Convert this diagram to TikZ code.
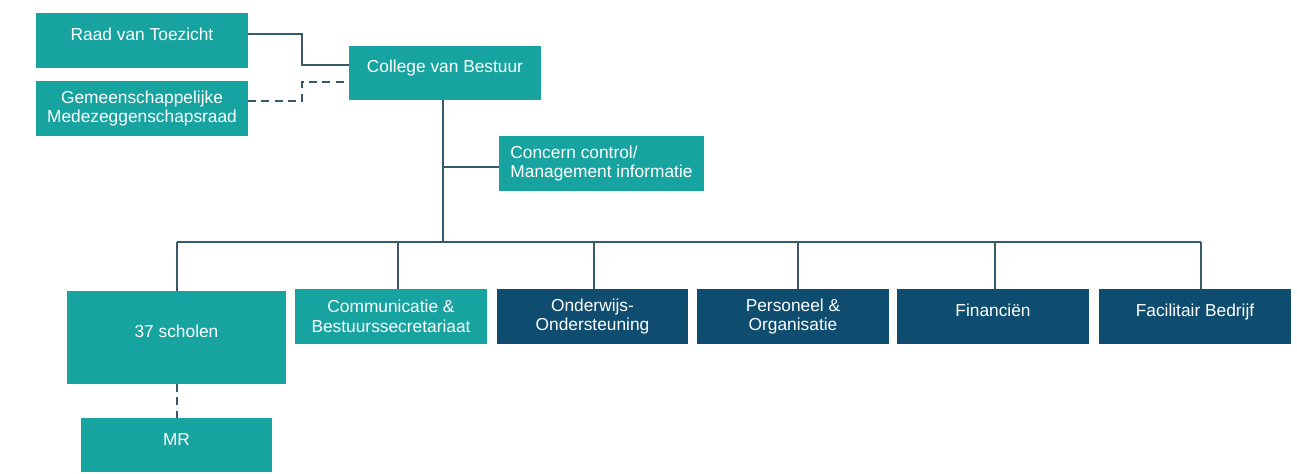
\documentclass[tikz,border=0pt]{standalone}
\usepackage{fontspec}
\setmainfont{Liberation Sans}
\definecolor{tealbox}{HTML}{17A3A0}
\definecolor{darkbox}{HTML}{0F4D70}
\definecolor{linecol}{HTML}{37596B}
\begin{document}
\begin{tikzpicture}[x=0.75pt,y=-0.75pt,
  box/.style={rectangle, inner sep=2pt, outer sep=0pt, text=white, align=center,
    font=\fontsize{13}{14.6}\selectfont},
  tbox/.style={box, fill=tealbox},
  dbox/.style={box, fill=darkbox},
  oneline/.style={text height=9pt, text depth=9pt},
  std/.style={minimum width=144pt, minimum height=41.25pt},
  conn/.style={draw=linecol, line width=1.5pt},
  dconn/.style={conn, dash pattern=on 6pt off 4pt}]
\fill[white] (0,0) rectangle (1297,474);
\useasboundingbox (0,0) rectangle (1297,474);
% top
\node[tbox, oneline, minimum width=159pt, minimum height=41.25pt] (raad) at (142,40.5) {Raad van Toezicht};
\node[tbox, minimum width=159pt, minimum height=41.25pt] (gmr) at (142,108.5) {Gemeenschappelijke\\Medezeggenschapsraad};
\node[tbox, oneline, minimum width=144pt, minimum height=40.5pt] (cvb) at (445,73) {College van Bestuur};
\node[tbox, align=left, minimum width=153.75pt, minimum height=41.25pt] (cc) at (601.5,163.5) {Concern control/\\Management informatie};
% bottom row
\node[tbox, oneline, minimum width=164.25pt, minimum height=69.75pt] (scholen) at (176.5,337.5) {37 scholen};
\node[tbox, oneline, minimum width=143.25pt, minimum height=40.5pt] (mr) at (176.5,445) {MR};
\node[tbox, std] (comm) at (391,316.5) {Communicatie \&\\Bestuurssecretariaat};
\node[dbox, std, minimum width=143.25pt] (ow) at (592.5,316.5) {Onderwijs-\\Ondersteuning};
\node[dbox, std] (po) at (793,316.5) {Personeel \&\\Organisatie};
\node[dbox, std, oneline] (fin) at (993,316.5) {Financiën};
\node[dbox, std, oneline] (fac) at (1195,316.5) {Facilitair Bedrijf};
% connectors
\coordinate (busL) at (177,242);
\coordinate (busR) at (1201,242);
\draw[conn] (raad.east |- 0,34) -- (302,34) -- (302,65) -- (cvb.west |- 0,65);
\draw[dconn] (gmr.east |- 0,101) -- (302,101) -- (302,82) -- (cvb.west |- 0,82);
\draw[conn] (cvb.south -| 443,0) -- (443,242);
\draw[conn] (443,167) -- (cc.west |- 0,167);
\draw[conn] (busL) -- (busR);
\draw[conn] (busL) -- (scholen.north -| busL);
\draw[conn] (comm.north -| 398,0) -- (398,242);
\draw[conn] (ow.north -| 594,0) -- (594,242);
\draw[conn] (po.north -| 798,0) -- (798,242);
\draw[conn] (fin.north -| 995,0) -- (995,242);
\draw[conn] (busR) -- (fac.north -| busR);
\draw[dconn] (scholen.south -| 177,0) -- (mr.north -| 177,0);
\end{tikzpicture}
\end{document}
